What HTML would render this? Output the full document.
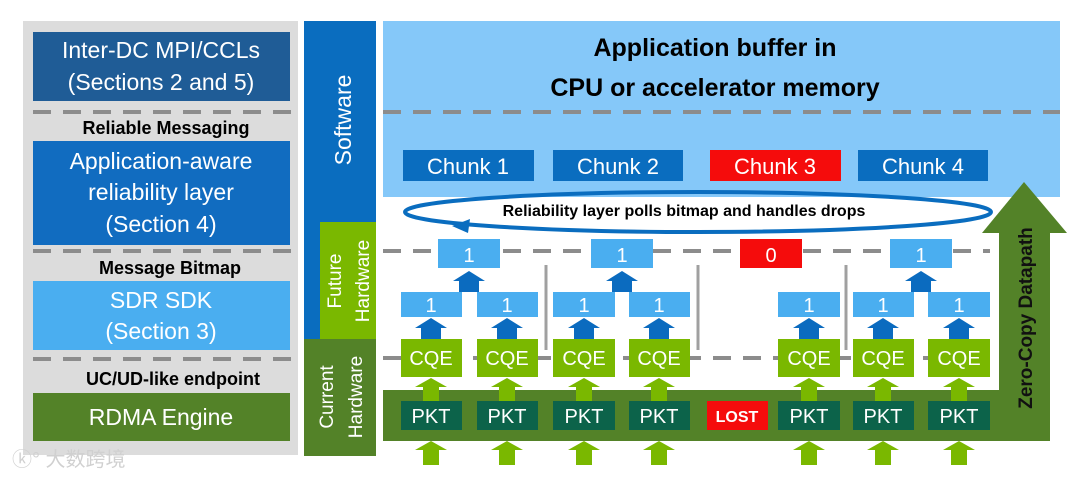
<!DOCTYPE html>
<html><head><meta charset="utf-8"><style>
html,body{margin:0;padding:0;background:#fff;}
svg{display:block;font-family:"Liberation Sans","Noto Sans CJK SC",sans-serif;}
</style></head><body>
<svg width="1080" height="478" viewBox="0 0 1080 478" xmlns="http://www.w3.org/2000/svg">
<defs>
<g id="barrow"><polygon points="-16,10 0,0 16,10 10,10 10,21 -10,21 -10,10" fill="#0b6bbf"/></g>
<g id="garrow"><polygon points="-16,9 0,0 16,9 8,9 8,24 -8,24 -8,9" fill="#7ab800"/></g>
</defs>
<rect x="23" y="21" width="275" height="434" fill="#dcdcdc"/>
<rect x="33" y="32" width="257" height="69" fill="#1f5c96"/>
<text x="161" y="58" font-size="23" fill="#fff" text-anchor="middle">Inter-DC MPI/CCLs</text>
<text x="161" y="90" font-size="23" fill="#fff" text-anchor="middle">(Sections 2 and 5)</text>
<line x1="33" y1="112" x2="298" y2="112" stroke="#8c8c8c" stroke-width="4" stroke-dasharray="18,12"/>
<text x="166" y="134" font-size="18" font-weight="bold" fill="#000" text-anchor="middle">Reliable Messaging</text>
<rect x="33" y="141" width="257" height="104" fill="#116cc0"/>
<text x="161" y="169" font-size="23" fill="#fff" text-anchor="middle">Application-aware</text>
<text x="161" y="200" font-size="23" fill="#fff" text-anchor="middle">reliability layer</text>
<text x="161" y="232" font-size="23" fill="#fff" text-anchor="middle">(Section 4)</text>
<line x1="33" y1="251" x2="298" y2="251" stroke="#8c8c8c" stroke-width="4" stroke-dasharray="18,12"/>
<text x="170" y="274" font-size="18" font-weight="bold" fill="#000" text-anchor="middle">Message Bitmap</text>
<rect x="33" y="281" width="257" height="69" fill="#4aaef0"/>
<text x="161" y="308" font-size="23" fill="#fff" text-anchor="middle">SDR SDK</text>
<text x="161" y="339" font-size="23" fill="#fff" text-anchor="middle">(Section 3)</text>
<line x1="33" y1="359" x2="298" y2="359" stroke="#8c8c8c" stroke-width="4" stroke-dasharray="18,12"/>
<text x="173" y="385" font-size="18" font-weight="bold" fill="#000" text-anchor="middle">UC/UD-like endpoint</text>
<rect x="33" y="393" width="257" height="48" fill="#538228"/>
<text x="161" y="425" font-size="23" fill="#fff" text-anchor="middle">RDMA Engine</text>
<text x="12" y="466" font-size="20" fill="#d0d0d0">ⓚ° 大数跨境</text>
<rect x="304" y="21" width="72" height="319" fill="#0a6dbf"/>
<rect x="320" y="222" width="56" height="117" fill="#7ab800"/>
<rect x="304" y="339" width="72" height="117" fill="#538228"/>
<text transform="translate(351,120) rotate(-90)" font-size="23" fill="#fff" text-anchor="middle">Software</text>
<text transform="translate(341,281) rotate(-90)" font-size="19" fill="#fff" text-anchor="middle">Future</text>
<text transform="translate(369,281) rotate(-90)" font-size="19" fill="#fff" text-anchor="middle">Hardware</text>
<text transform="translate(333,397) rotate(-90)" font-size="19" fill="#fff" text-anchor="middle">Current</text>
<text transform="translate(362,397) rotate(-90)" font-size="19" fill="#fff" text-anchor="middle">Hardware</text>
<rect x="383" y="21" width="677" height="176" fill="#85c8f9"/>
<text x="715" y="56" font-size="25" font-weight="bold" fill="#000" text-anchor="middle">Application buffer in</text>
<text x="715" y="96" font-size="25" font-weight="bold" fill="#000" text-anchor="middle">CPU or accelerator memory</text>
<line x1="383" y1="112" x2="1060" y2="112" stroke="#8c8c8c" stroke-width="4" stroke-dasharray="18,12"/>
<rect x="403" y="150" width="131" height="31" fill="#0a6dbf"/><text x="468" y="174" font-size="22" fill="#fff" text-anchor="middle">Chunk 1</text>
<rect x="553" y="150" width="130" height="31" fill="#0a6dbf"/><text x="618" y="174" font-size="22" fill="#fff" text-anchor="middle">Chunk 2</text>
<rect x="710" y="150" width="131" height="31" fill="#f50c0c"/><text x="775" y="174" font-size="22" fill="#fff" text-anchor="middle">Chunk 3</text>
<rect x="858" y="150" width="130" height="31" fill="#0a6dbf"/><text x="923" y="174" font-size="22" fill="#fff" text-anchor="middle">Chunk 4</text>
<ellipse cx="698" cy="212" rx="293" ry="20" fill="none" stroke="#0a6dbf" stroke-width="4"/>
<rect x="440" y="226" width="18" height="10" fill="#fff"/>
<polygon points="452,226 470,219 468,233" fill="#0a6dbf"/>
<text x="684" y="216" font-size="16" font-weight="bold" fill="#000" text-anchor="middle">Reliability layer polls bitmap and handles drops</text>
<rect x="383" y="390" width="667" height="51" fill="#538228"/>
<rect x="999" y="232" width="51" height="209" fill="#538228"/>
<polygon points="982,233 1024,182 1067,233" fill="#538228"/>
<text transform="translate(1032,318) rotate(-90)" font-size="19" font-weight="bold" fill="#111" text-anchor="middle">Zero-Copy Datapath</text>
<line x1="383" y1="251" x2="990" y2="251" stroke="#8c8c8c" stroke-width="4" stroke-dasharray="18,12"/>
<line x1="383" y1="358" x2="990" y2="358" stroke="#8c8c8c" stroke-width="4" stroke-dasharray="18,12"/>
<line x1="546" y1="265" x2="546" y2="350" stroke="#a0a0a0" stroke-width="3"/>
<line x1="698" y1="265" x2="698" y2="350" stroke="#a0a0a0" stroke-width="3"/>
<line x1="846" y1="265" x2="846" y2="350" stroke="#a0a0a0" stroke-width="3"/>
<g font-size="20" fill="#fff" text-anchor="middle">
<rect x="438" y="239" width="62" height="29" fill="#4aaef0"/><text x="469" y="262">1</text>
<rect x="591" y="239" width="62" height="29" fill="#4aaef0"/><text x="622" y="262">1</text>
<rect x="740" y="239" width="62" height="29" fill="#f50c0c"/><text x="771" y="262">0</text>
<rect x="890" y="239" width="62" height="29" fill="#4aaef0"/><text x="921" y="262">1</text>
</g>
<use href="#barrow" x="469" y="271"/>
<use href="#barrow" x="622" y="271"/>
<use href="#barrow" x="921" y="271"/>
<g font-size="20" fill="#fff" text-anchor="middle">
<rect x="401" y="292" width="61" height="25" fill="#4aaef0"/><text x="431" y="312">1</text>
<rect x="477" y="292" width="61" height="25" fill="#4aaef0"/><text x="507" y="312">1</text>
<rect x="553" y="292" width="62" height="25" fill="#4aaef0"/><text x="584" y="312">1</text>
<rect x="629" y="292" width="61" height="25" fill="#4aaef0"/><text x="659" y="312">1</text>
<rect x="778" y="292" width="62" height="25" fill="#4aaef0"/><text x="809" y="312">1</text>
<rect x="853" y="292" width="61" height="25" fill="#4aaef0"/><text x="883" y="312">1</text>
<rect x="928" y="292" width="62" height="25" fill="#4aaef0"/><text x="959" y="312">1</text>
</g>
<use href="#barrow" x="431" y="318"/><use href="#barrow" x="507" y="318"/><use href="#barrow" x="584" y="318"/><use href="#barrow" x="659" y="318"/><use href="#barrow" x="809" y="318"/><use href="#barrow" x="883" y="318"/><use href="#barrow" x="959" y="318"/>
<g font-size="20" fill="#fff" text-anchor="middle">
<rect x="401" y="339" width="61" height="38" fill="#7ab800"/><text x="431" y="365">CQE</text>
<rect x="477" y="339" width="61" height="38" fill="#7ab800"/><text x="507" y="365">CQE</text>
<rect x="553" y="339" width="62" height="38" fill="#7ab800"/><text x="584" y="365">CQE</text>
<rect x="629" y="339" width="61" height="38" fill="#7ab800"/><text x="659" y="365">CQE</text>
<rect x="778" y="339" width="62" height="38" fill="#7ab800"/><text x="809" y="365">CQE</text>
<rect x="853" y="339" width="61" height="38" fill="#7ab800"/><text x="883" y="365">CQE</text>
<rect x="928" y="339" width="62" height="38" fill="#7ab800"/><text x="959" y="365">CQE</text>
</g>
<use href="#garrow" x="431" y="378"/><use href="#garrow" x="507" y="378"/><use href="#garrow" x="584" y="378"/><use href="#garrow" x="659" y="378"/><use href="#garrow" x="809" y="378"/><use href="#garrow" x="883" y="378"/><use href="#garrow" x="959" y="378"/>
<g font-size="20" fill="#fff" text-anchor="middle">
<rect x="401" y="401" width="61" height="29" fill="#0c634a"/><text x="431" y="423">PKT</text>
<rect x="477" y="401" width="61" height="29" fill="#0c634a"/><text x="507" y="423">PKT</text>
<rect x="553" y="401" width="62" height="29" fill="#0c634a"/><text x="584" y="423">PKT</text>
<rect x="629" y="401" width="61" height="29" fill="#0c634a"/><text x="659" y="423">PKT</text>
<rect x="707" y="401" width="61" height="29" fill="#f50c0c"/><text x="737" y="422" font-size="16" font-weight="bold">LOST</text>
<rect x="778" y="401" width="62" height="29" fill="#0c634a"/><text x="809" y="423">PKT</text>
<rect x="853" y="401" width="61" height="29" fill="#0c634a"/><text x="883" y="423">PKT</text>
<rect x="928" y="401" width="62" height="29" fill="#0c634a"/><text x="959" y="423">PKT</text>
</g>
<use href="#garrow" x="431" y="441"/><use href="#garrow" x="507" y="441"/><use href="#garrow" x="584" y="441"/><use href="#garrow" x="659" y="441"/><use href="#garrow" x="809" y="441"/><use href="#garrow" x="883" y="441"/><use href="#garrow" x="959" y="441"/>
</svg>
</body></html>
